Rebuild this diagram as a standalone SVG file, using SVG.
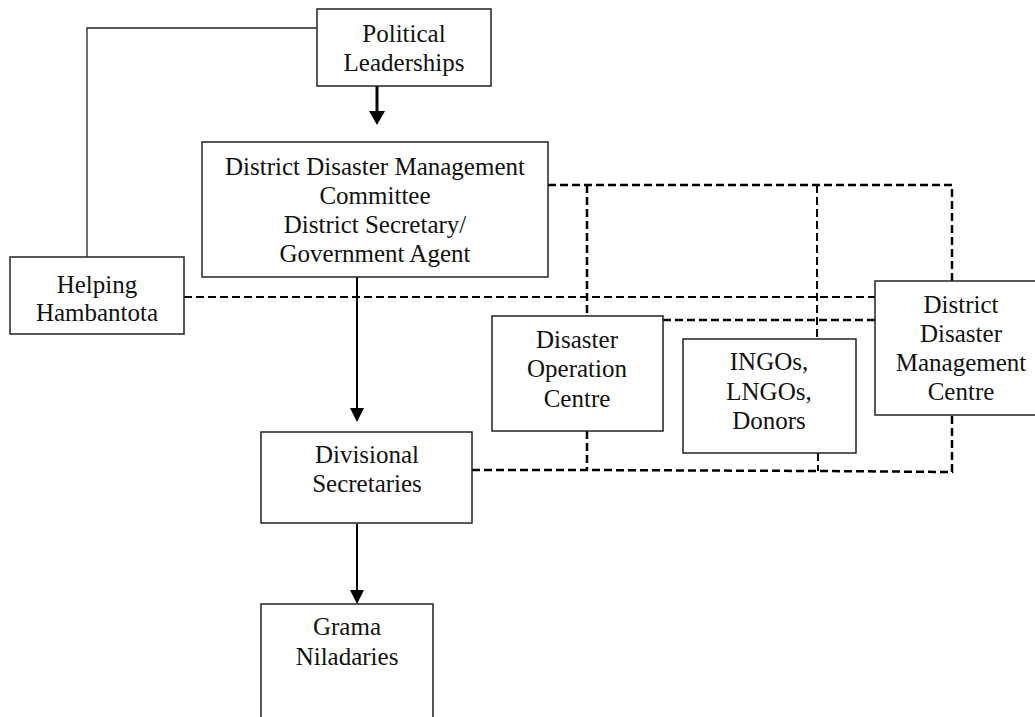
<svg xmlns="http://www.w3.org/2000/svg" width="1035" height="717" viewBox="0 0 1035 717">
<style>
.box{fill:#fff;stroke:#222;stroke-width:1.5}
.t{font-family:"Liberation Serif","Times New Roman",serif;font-size:25px;fill:#111;text-anchor:middle}
.solid{fill:none;stroke:#222;stroke-width:1.3}
.arr{fill:none;stroke:#000;stroke-width:2}
.arrb{fill:none;stroke:#000;stroke-width:3}
.dash{fill:none;stroke:#000;stroke-width:2.5;stroke-dasharray:8 4}
.dasht{fill:none;stroke:#000;stroke-width:2;stroke-dasharray:8 4}
</style>
<defs>
<marker id="ah" markerUnits="userSpaceOnUse" markerWidth="14" markerHeight="14" refX="0" refY="7" orient="auto">
<path d="M0,0 L14,7 L0,14 z" fill="#000"/>
</marker>
<marker id="ahb" markerUnits="userSpaceOnUse" markerWidth="14" markerHeight="16" refX="0" refY="8" orient="auto">
<path d="M0,0 L14,8 L0,16 z" fill="#000"/>
</marker>
</defs>
<rect width="1035" height="717" fill="#fff"/>
<g id="connectors">
<polyline class="solid" points="317,28 87,28 87,257"/>
<line class="arrb" x1="377" y1="86" x2="377" y2="111" marker-end="url(#ahb)"/>
<line class="arr" x1="357" y1="277" x2="357" y2="408" marker-end="url(#ah)"/>
<line class="arr" x1="357" y1="524" x2="357" y2="590" marker-end="url(#ah)"/>
<polyline class="dash" points="548,185 952,185 952,281"/>
<line class="dash" x1="587" y1="185" x2="587" y2="316"/>
<line class="dasht" x1="817" y1="185" x2="817" y2="339"/>
<line class="dasht" x1="184" y1="297" x2="875" y2="297"/>
<line class="dash" x1="663" y1="320" x2="875" y2="320"/>
<polyline class="dash" points="472,470 587,470 818,471 952,472 952,415"/>
<line class="dash" x1="587" y1="431" x2="587" y2="470"/>
<line class="dasht" x1="818" y1="453" x2="818" y2="471"/>
</g>
<g id="political">
<rect class="box" x="317" y="9" width="174" height="77"/>
<text class="t" x="404" y="42">Political</text>
<text class="t" x="404" y="71">Leaderships</text>
</g>
<g id="ddmc">
<rect class="box" x="202" y="142" width="346" height="135"/>
<text class="t" x="375" y="175">District Disaster Management</text>
<text class="t" x="375" y="204">Committee</text>
<text class="t" x="375" y="233">District Secretary/</text>
<text class="t" x="375" y="262">Government Agent</text>
</g>
<g id="helping">
<rect class="box" x="10" y="257" width="174" height="77"/>
<text class="t" x="97" y="293">Helping</text>
<text class="t" x="97" y="321">Hambantota</text>
</g>
<g id="doc">
<rect class="box" x="492" y="316" width="171" height="115"/>
<text class="t" x="577" y="348">Disaster</text>
<text class="t" x="577" y="377">Operation</text>
<text class="t" x="577" y="407">Centre</text>
</g>
<g id="ngos">
<rect class="box" x="683" y="339" width="173" height="114"/>
<text class="t" x="769" y="370">INGOs,</text>
<text class="t" x="769" y="400">LNGOs,</text>
<text class="t" x="769" y="429">Donors</text>
</g>
<g id="ddmcentre">
<rect class="box" x="875" y="281" width="175" height="134"/>
<text class="t" x="961" y="313">District</text>
<text class="t" x="961" y="342">Disaster</text>
<text class="t" x="961" y="371">Management</text>
<text class="t" x="961" y="400">Centre</text>
</g>
<g id="divisional">
<rect class="box" x="261" y="432" width="211" height="91"/>
<text class="t" x="367" y="463">Divisional</text>
<text class="t" x="367" y="492">Secretaries</text>
</g>
<g id="grama">
<rect class="box" x="261" y="604" width="172" height="130"/>
<text class="t" x="347" y="635">Grama</text>
<text class="t" x="347" y="665">Niladaries</text>
</g>
</svg>
